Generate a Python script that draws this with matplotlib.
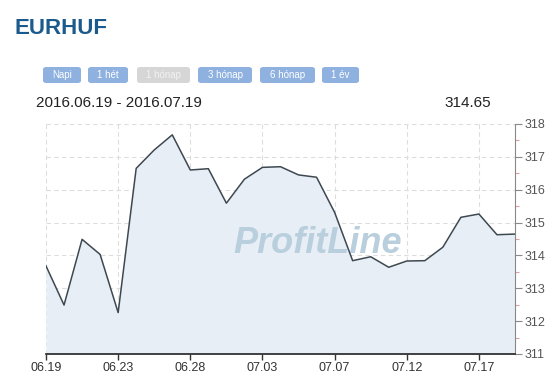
import matplotlib
matplotlib.use('Agg')
import matplotlib.pyplot as plt
from matplotlib.patches import FancyBboxPatch
from matplotlib.ticker import MultipleLocator

plt.rcParams['font.family'] = ['Liberation Sans', 'DejaVu Sans']

# EURHUF daily closes, 2016.06.19 - 2016.07.19
values = [313.68, 312.49, 314.49, 314.03, 312.26, 316.65, 317.21, 317.67,
          316.60, 316.64, 315.59, 316.32, 316.68, 316.70, 316.45, 316.38,
          315.31, 313.84, 313.96, 313.64, 313.83, 313.84, 314.25, 315.16,
          315.26, 314.63, 314.65]
tick_pos = [0, 4, 8, 12, 16, 20, 24]
tick_labels = ['06.19', '06.23', '06.28', '07.03', '07.07', '07.12', '07.17']
y_ticks = [311, 312, 313, 314, 315, 316, 317, 318]
buttons = ['Napi', '1 hét', '1 hónap', '3 hónap', '6 hónap', '1 év']
active = '1 hónap'

W, H = 547, 377
fig = plt.figure(figsize=(W / 100, H / 100), dpi=100)

# header
fig.text(15 / W, 1 - 28 / H, 'EURHUF', fontsize=16, fontweight='bold',
         color='#1b5a8c', va='center', ha='left')

# period buttons
btn_x = [43, 88, 137, 198, 260, 322]
btn_w = [38, 40, 53, 54, 55, 37]
for lab, x, w in zip(buttons, btn_x, btn_w):
    on = lab == active
    face = '#d6d6d6' if on else '#8eb1e0'
    tc = '#f2f2f2' if on else 'white'
    fig.patches.append(FancyBboxPatch((x / W, 1 - 83 / H), w / W, 16 / H,
                                      boxstyle='round,pad=0,rounding_size=0.006',
                                      transform=fig.transFigure, facecolor=face,
                                      edgecolor='none'))
    fig.text((x + w / 2) / W, 1 - 75.5 / H, lab, fontsize=7, color=tc,
             ha='center', va='center')

fig.text(36 / W, 1 - 103 / H, '2016.06.19 - 2016.07.19', fontsize=11,
         color='#222222', ha='left', va='center')
fig.text(491 / W, 1 - 103 / H, '%.2f' % values[-1], fontsize=11,
         color='#222222', ha='right', va='center')

ax = fig.add_axes([46 / W, 23 / H, (515 - 46) / W, (354 - 124) / H])
x = list(range(len(values)))
ax.fill_between(x, values, 311, color='#e7eef6', zorder=1, linewidth=0)
ax.plot(x, values, color='#3d4850', linewidth=1.1, zorder=4)
ax.text(0.58, 0.48, 'ProfitLine', transform=ax.transAxes, fontsize=26,
        fontweight='bold', fontstyle='italic', color='#b9cfdd',
        ha='center', va='center', zorder=3)

ax.set_xlim(0, len(values) - 1)
ax.set_ylim(311, 318)
ax.set_xticks(tick_pos)
ax.set_xticklabels(tick_labels)
ax.set_yticks(y_ticks)
ax.yaxis.set_minor_locator(MultipleLocator(0.5))
ax.yaxis.tick_right()
ax.tick_params(axis='x', length=4, width=1, color='#333333', labelsize=9,
               labelcolor='#333333', pad=2)
ax.tick_params(axis='y', which='major', length=5, width=0.8, color='#888888',
               labelsize=9, labelcolor='#555555', pad=2)
ax.tick_params(axis='y', which='minor', length=3, width=0.8, color='#e0a0a0')
ax.grid(True, which='major', color='#dddddd', linestyle=(0, (4, 3)),
        linewidth=0.8, zorder=0)
ax.set_axisbelow(True)
for s in ['top', 'left']:
    ax.spines[s].set_visible(False)
ax.spines['bottom'].set_color('#222222')
ax.spines['bottom'].set_linewidth(1.2)
ax.spines['right'].set_color('#888888')
ax.spines['right'].set_linewidth(0.8)

fig.savefig('out.png', dpi=100)
